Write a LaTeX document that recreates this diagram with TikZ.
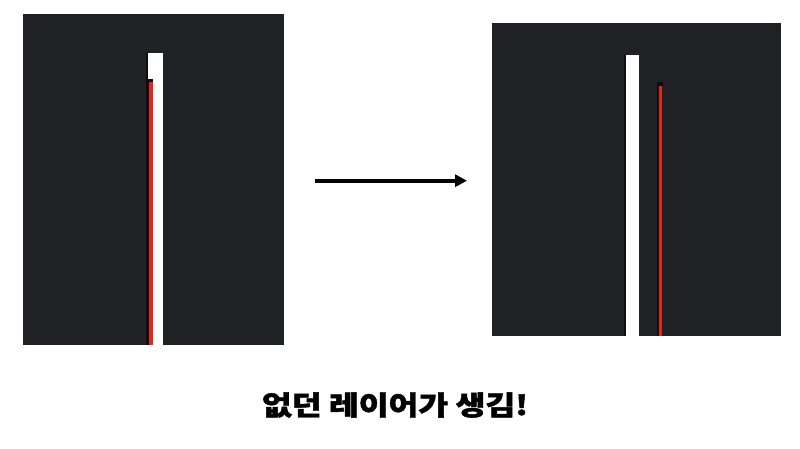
\documentclass[tikz,border=0pt]{standalone}
\usepackage{fontspec}
\newfontfamily\cjk[BoldFeatures={FakeBold=1.5}]{Noto Sans CJK KR}
\usetikzlibrary{arrows.meta}
\definecolor{panel}{RGB}{32,33,37}
\definecolor{edge}{RGB}{14,14,16}
\definecolor{redline}{RGB}{226,38,30}
\tikzset{
  panelbox/.style={fill=panel, draw=none, inner sep=0pt, minimum width=#1},
  whitebar/.style={fill=white, draw=none},
  redbar/.style={fill=redline, draw=none},
  shade/.style={fill=edge, draw=none},
  bigarrow/.style={line width=3.6pt, -{Triangle[length=12pt,width=12pt]}},
  caption/.style={font=\cjk\bfseries\fontsize{27}{30}\selectfont, inner sep=0pt, text=black, xscale=1.2}
}
\begin{document}
\begin{tikzpicture}[x=1pt,y=-1pt]
\useasboundingbox (0,0) rectangle (800,448);
\fill[white] (0,0) rectangle (800,448);
% left panel
\node[panelbox=260.7pt, minimum height=331pt, anchor=north west] (left) at (23,14) {};
\fill[shade] (146,52.7) rectangle (148,345);
\fill[whitebar] (148,52.7) rectangle (162.5,345);
\fill[shade] (147.5,79) rectangle (152.5,82);
\fill[shade] (147.5,82) rectangle (149,345);
\fill[redbar] (149,82) rectangle (152.5,345);
% right panel
\node[panelbox=289pt, minimum height=313pt, anchor=north west] (right) at (492,23) {};
\fill[shade] (623.5,55) rectangle (626,336);
\fill[whitebar] (626,55) rectangle (639.3,336);
\fill[shade] (656.5,81.7) rectangle (663,86);
\fill[shade] (656.5,86) rectangle (659,336);
\fill[redbar] (659,86) rectangle (662.3,336);
% arrow
\coordinate (a1) at (315,180.7);
\coordinate (a2) at (467,180.7);
\draw[bigarrow] (a1) -- (a2);
% caption
\node[caption] (cap) at (395,405) {없던 레이어가 생김!};
\end{tikzpicture}
\end{document}
